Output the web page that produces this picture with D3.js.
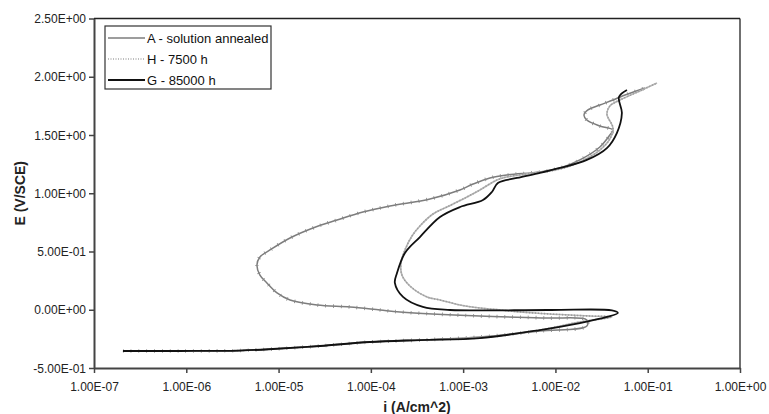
<!DOCTYPE html>
<html><head><meta charset="utf-8">
<script src="https://cdn.jsdelivr.net/npm/d3@7"></script>
<style>html,body{margin:0;padding:0;background:#fff;}svg{display:block;font-family:"Liberation Sans",Arial,sans-serif;}</style>
</head><body>
<svg id="c" width="769" height="414"></svg>
<script>
const xTicks = [1e-7, 1e-6, 1e-5, 1e-4, 1e-3, 1e-2, 1e-1, 1];
const yTicks = [-0.5, 0, 0.5, 1.0, 1.5, 2.0, 2.5];
const seriesNames = ["A - solution annealed", "H - 7500 h", "G - 85000 h"];
const xTitle = "i (A/cm^2)";
const yTitle = "E (V/SCE)";

const iA = [2.06e-7, 8.55e-7, 3.82e-6, 8.69e-6, 2.81e-5, 9.77e-5, 3.40e-4, 1.52e-3, 6.79e-3, 2.19e-2, 2.19e-2, 8.09e-3, 1.52e-3, 2.07e-4, 1.26e-4, 5.94e-5, 2.61e-5, 1.33e-5, 9.62e-6, 7.48e-6, 6.28e-6, 5.83e-6, 6.28e-6, 8.07e-6, 1.33e-5, 2.36e-5, 4.30e-5, 8.20e-5, 1.61e-4, 4.37e-4, 9.23e-4, 1.28e-3, 1.95e-3, 2.99e-3, 6.79e-3, 1.12e-2, 1.84e-2, 3.03e-2, 3.89e-2, 4.20e-2, 3.03e-2, 2.19e-2, 2.04e-2, 2.25e-2, 3.03e-2, 4.20e-2, 5.00e-2, 9.33e-2];
const eA = [-0.354, -0.354, -0.350, -0.337, -0.311, -0.277, -0.260, -0.234, -0.183, -0.140, -0.088, -0.071, -0.054, -0.019, -0.002, 0.024, 0.041, 0.084, 0.144, 0.230, 0.298, 0.384, 0.453, 0.513, 0.616, 0.702, 0.770, 0.839, 0.891, 0.951, 1.028, 1.079, 1.131, 1.157, 1.183, 1.217, 1.286, 1.397, 1.500, 1.543, 1.577, 1.629, 1.672, 1.715, 1.757, 1.800, 1.826, 1.903];

const iH = [2.06e-7, 8.55e-7, 3.82e-6, 8.69e-6, 2.81e-5, 9.77e-5, 3.40e-4, 1.52e-3, 6.79e-3, 1.84e-2, 4.09e-2, 2.37e-2, 1.12e-2, 4.12e-3, 2.51e-3, 1.52e-3, 9.23e-4, 5.61e-4, 4.06e-4, 2.65e-4, 2.17e-4, 2.12e-4, 2.34e-4, 2.79e-4, 3.40e-4, 4.71e-4, 6.67e-4, 1.10e-3, 1.52e-3, 2.32e-3, 2.99e-3, 4.91e-3, 1.12e-2, 1.84e-2, 3.03e-2, 3.89e-2, 4.20e-2, 3.61e-2, 3.89e-2, 5.00e-2, 8.22e-2, 1.26e-1];
const eH = [-0.354, -0.354, -0.350, -0.337, -0.311, -0.277, -0.260, -0.239, -0.174, -0.105, -0.062, -0.054, -0.041, -0.019, -0.002, 0.015, 0.041, 0.084, 0.110, 0.204, 0.298, 0.401, 0.513, 0.633, 0.719, 0.822, 0.882, 0.968, 1.028, 1.114, 1.140, 1.166, 1.208, 1.268, 1.371, 1.466, 1.560, 1.680, 1.749, 1.800, 1.878, 1.946];

const iG = [2.06e-7, 8.55e-7, 3.82e-6, 8.69e-6, 2.81e-5, 9.77e-5, 3.40e-4, 1.52e-3, 6.79e-3, 1.84e-2, 3.61e-2, 4.75e-2, 4.09e-2, 8.71e-3, 7.19e-4, 3.66e-4, 2.23e-4, 1.82e-4, 1.92e-4, 2.34e-4, 3.40e-4, 5.61e-4, 9.25e-4, 1.64e-3, 2.05e-3, 2.38e-3, 3.83e-3, 6.79e-3, 1.12e-2, 2.19e-2, 3.61e-2, 4.63e-2, 5.25e-2, 4.88e-2, 5.96e-2];
const eG = [-0.354, -0.354, -0.350, -0.337, -0.311, -0.277, -0.260, -0.243, -0.174, -0.114, -0.062, -0.028, -0.006, -0.002, -0.002, 0.024, 0.110, 0.230, 0.315, 0.487, 0.624, 0.796, 0.882, 0.942, 1.011, 1.088, 1.131, 1.174, 1.217, 1.286, 1.388, 1.517, 1.689, 1.826, 1.886];

const L = 94, R = 740, T = 18.5, B = 368;
const x = d3.scaleLog().domain([1e-7, 1]).range([L, R]);
const y = d3.scaleLinear().domain([-0.5, 2.5]).range([B, T]);

function sci(v) {
  if (v === 0) return "0.00E+00";
  const s = v < 0 ? "-" : "";
  const a = Math.abs(v);
  let e = Math.floor(Math.log10(a) + 1e-9);
  let m = a / Math.pow(10, e);
  if (m >= 9.995) { m /= 10; e += 1; }
  return s + m.toFixed(2) + "E" + (e < 0 ? "-" : "+") + String(Math.abs(e)).padStart(2, "0");
}

const svg = d3.select("#c");

svg.append("line").attr("x1", L).attr("x2", R).attr("y1", T).attr("y2", T).attr("stroke", "#222").attr("stroke-width", 1.3);
svg.append("line").attr("x1", R).attr("x2", R).attr("y1", T).attr("y2", B).attr("stroke", "#222").attr("stroke-width", 1.3);

const gx = svg.append("g").attr("transform", `translate(0,${B})`)
  .call(d3.axisBottom(x).tickValues(xTicks).tickFormat(sci).tickSize(5).tickSizeOuter(0));
const gy = svg.append("g").attr("transform", `translate(${L},0)`)
  .call(d3.axisLeft(y).tickValues(yTicks).tickFormat(sci).tickSize(5).tickSizeOuter(0));
[gx, gy].forEach(g => {
  g.select(".domain").attr("stroke", "#444").attr("stroke-width", 2);
  g.selectAll(".tick line").attr("stroke", "#444").attr("stroke-width", 1.5);
  g.selectAll(".tick text").attr("fill", "#222").style("font-size", "12px").style("font-family", "'Liberation Sans', Arial, sans-serif");
});
gx.selectAll(".tick text").attr("dy", null).attr("y", 23);
gy.selectAll(".tick text").attr("x", -8).attr("dy", "0.35em");

svg.append("text").attr("x", 417).attr("y", 412).attr("text-anchor", "middle")
  .style("font-size", "14px").style("font-weight", "bold").attr("fill", "#222").text(xTitle);
svg.append("text").attr("transform", `translate(25,${(T + B) / 2}) rotate(-90)`).attr("text-anchor", "middle")
  .style("font-size", "14px").style("font-weight", "bold").attr("fill", "#222").text(yTitle);

const line = d3.line().x(d => x(d[0])).y(d => y(d[1])).curve(d3.curveCatmullRom.alpha(0.5));
const zip = (a, b) => a.map((v, k) => [v, b[k]]);

const plot = svg.append("g");
plot.append("path").attr("d", line(zip(iA, eA))).attr("fill", "none").attr("stroke", "#7d7d7d").attr("stroke-width", 1.5);
plot.append("path").attr("d", line(zip(iA, eA))).attr("fill", "none").attr("stroke", "#858585").attr("stroke-width", 3.6).attr("stroke-dasharray", "0.8 7");
plot.append("path").attr("d", line(zip(iH, eH))).attr("fill", "none").attr("stroke", "#b4b4b4").attr("stroke-width", 1.6);
plot.append("path").attr("d", line(zip(iH, eH))).attr("fill", "none").attr("stroke", "#9a9a9a").attr("stroke-width", 1.6).attr("stroke-dasharray", "1 2");
plot.append("path").attr("d", line(zip(iG, eG))).attr("fill", "none").attr("stroke", "#111").attr("stroke-width", 1.8);

const lg = svg.append("g");
lg.append("rect").attr("x", 105).attr("y", 26).attr("width", 166).attr("height", 63)
  .attr("fill", "#fff").attr("stroke", "#333").attr("stroke-width", 1.2);
const rows = [38, 59, 80];
const styles = [
  {stroke: "#7d7d7d", w: 1.3, dash: null},
  {stroke: "#a8a8a8", w: 1.3, dash: "1 1.5"},
  {stroke: "#111", w: 1.8, dash: null}
];
seriesNames.forEach((n, k) => {
  lg.append("line").attr("x1", 108).attr("x2", 145).attr("y1", rows[k]).attr("y2", rows[k])
    .attr("stroke", styles[k].stroke).attr("stroke-width", styles[k].w).attr("stroke-dasharray", styles[k].dash);
  lg.append("text").attr("x", 147).attr("y", rows[k]).attr("dy", "0.36em")
    .style("font-size", "13px").attr("fill", "#111").text(n);
});
</script>
</body></html>
